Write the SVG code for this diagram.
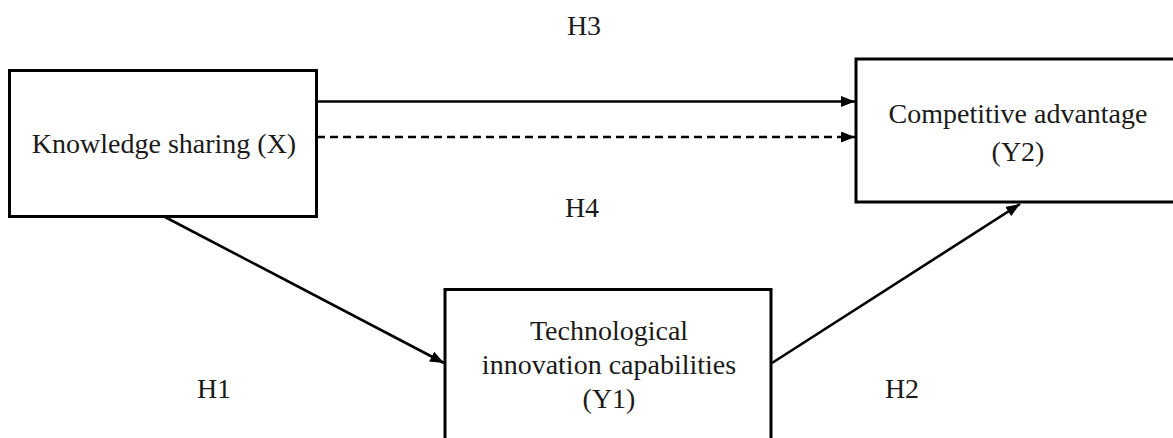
<svg xmlns="http://www.w3.org/2000/svg" width="1173" height="438" viewBox="0 0 1173 438">
<style>
.box{fill:#fff;stroke:#000;stroke-width:3}
.t{font-family:"Liberation Serif","Times New Roman",serif;font-size:28px;fill:#1a1a1a;text-anchor:middle}
.c{stroke:#000;stroke-width:2.6;fill:none}
.d{stroke-dasharray:8 5}
</style>
<defs>
<marker id="ah" viewBox="0 0 14 11" refX="14" refY="5.5" markerWidth="14" markerHeight="11" markerUnits="userSpaceOnUse" orient="auto">
<path d="M0,0 L14,5.5 L0,11 Z" fill="#000"/>
</marker>
</defs>
<rect width="1173" height="438" fill="#fff"/>
<g id="connectors">
<line class="c" x1="317" y1="101.5" x2="855" y2="101.5" marker-end="url(#ah)"/>
<line class="c d" x1="317" y1="137" x2="855" y2="137" marker-end="url(#ah)"/>
<line class="c" x1="165" y1="217" x2="444" y2="363" marker-end="url(#ah)"/>
<line class="c" x1="772" y1="363" x2="1020" y2="204" marker-end="url(#ah)"/>
</g>
<g id="node-x">
<rect class="box" x="9.5" y="70.5" width="307" height="146"/>
<text class="t" x="164" y="153">Knowledge sharing (X)</text>
</g>
<g id="node-y2">
<rect class="box" x="856" y="59" width="320" height="143"/>
<text class="t" x="1018" y="123">Competitive advantage</text>
<text class="t" x="1018" y="161">(Y2)</text>
</g>
<g id="node-y1">
<rect class="box" x="445" y="289.5" width="326" height="160"/>
<text class="t" x="609" y="340">Technological</text>
<text class="t" x="609" y="374">innovation capabilities</text>
<text class="t" x="609" y="408">(Y1)</text>
</g>
<g id="labels">
<text class="t" x="584" y="35">H3</text>
<text class="t" x="582" y="217">H4</text>
<text class="t" x="214" y="398">H1</text>
<text class="t" x="902" y="398">H2</text>
</g>
</svg>
